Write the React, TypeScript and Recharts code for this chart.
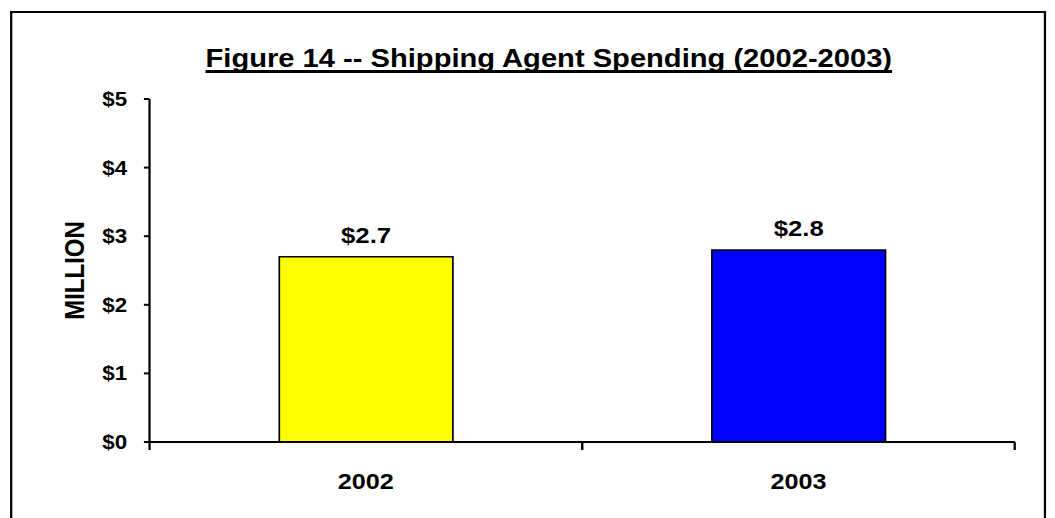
import React from 'react';
import { BarChart, Bar, XAxis, YAxis, Cell, LabelList } from 'recharts';

const years = ['2002', '2003'];
const spending = [2.7, 2.8];
const barColors = ['#FFFF00', '#0000FF'];
const yTicks = [0, 1, 2, 3, 4, 5];

const data = years.map((year, i) => ({ year, value: spending[i] }));

// the reference is stretched sideways, so draw narrow and scale on x
const STRETCH = 1.12;
const CHART_W = 942;
const CHART_H = 518;
const MARGIN = { top: 99, right: 36, left: 0, bottom: 0 };
const YAXIS_W = 133.5;
const XAXIS_H = 76;
const FONT = '"Liberation Sans", Arial, sans-serif';

const axisY = CHART_H - MARGIN.bottom - XAXIS_H;
const band = (CHART_W - MARGIN.left - MARGIN.right - YAXIS_W) / years.length;

// category label in the middle, tick marks on the band edges (Excel style)
const YearTick = (props: any) => {
  const { x, payload } = props;
  return (
    <g>
      <line x1={x - band / 2} x2={x - band / 2} y1={axisY} y2={axisY + 8} stroke="#000" strokeWidth={2} />
      <line x1={x + band / 2} x2={x + band / 2} y1={axisY} y2={axisY + 8} stroke="#000" strokeWidth={2} />
      <text x={x} y={axisY + 47} textAnchor="middle" fill="#000" fontSize={22.5} fontWeight="bold" fontFamily={FONT}>
        {payload.value}
      </text>
    </g>
  );
};

export default function App() {
  return (
    <div
      style={{
        position: 'absolute',
        left: 0,
        top: 0,
        width: CHART_W,
        height: CHART_H,
        overflow: 'hidden',
        background: '#fff',
        transform: `scaleX(${STRETCH})`,
        transformOrigin: '0 0',
        fontFamily: FONT,
      }}
    >
      <div
        style={{
          position: 'absolute',
          left: 10 / STRETCH,
          top: 11,
          width: (1046 - 10) / STRETCH,
          height: 507,
          border: '2px solid #000',
          borderBottom: 'none',
          boxSizing: 'border-box',
        }}
      />
      <div
        style={{
          position: 'absolute',
          left: 0,
          top: 45,
          width: 980,
          textAlign: 'center',
          fontSize: 26,
          lineHeight: '26px',
          fontWeight: 'bold',
          textDecoration: 'underline',
          textDecorationThickness: '3px',
          textUnderlineOffset: '3px',
          textDecorationSkipInk: 'none',
          color: '#000',
        }}
      >
        Figure 14 -- Shipping Agent Spending (2002-2003)
      </div>
      <div style={{ position: 'absolute', left: 0, top: 0 }}>
        <BarChart width={CHART_W} height={CHART_H} data={data} margin={MARGIN} barCategoryGap="30%">
          <XAxis
            dataKey="year"
            height={XAXIS_H}
            axisLine={{ stroke: '#000', strokeWidth: 2 }}
            tickLine={false}
            tick={<YearTick />}
            interval={0}
          />
          <YAxis
            width={YAXIS_W}
            domain={[0, 5]}
            ticks={yTicks}
            interval={0}
            tickFormatter={(v: number) => `$${v}`}
            axisLine={{ stroke: '#000', strokeWidth: 2 }}
            tickLine={{ stroke: '#000', strokeWidth: 2 }}
            tickSize={5}
            tickMargin={15}
            tick={{ fill: '#000', fontSize: 20, fontWeight: 'bold', fontFamily: FONT }}
            label={{
              value: 'MILLION',
              angle: -90,
              position: 'center',
              fill: '#000',
              fontSize: 24,
              fontWeight: 'bold',
              fontFamily: FONT,
            }}
          />
          <Bar dataKey="value" stroke="#000" strokeWidth={1.5} isAnimationActive={false}>
            {data.map((d, i) => (
              <Cell key={d.year} fill={barColors[i]} />
            ))}
            <LabelList
              dataKey="value"
              position="top"
              offset={14}
              formatter={(v: any) => `$${Number(v).toFixed(1)}`}
              fill="#000"
              fontSize={23}
              fontWeight="bold"
              fontFamily={FONT}
            />
          </Bar>
        </BarChart>
      </div>
    </div>
  );
}
